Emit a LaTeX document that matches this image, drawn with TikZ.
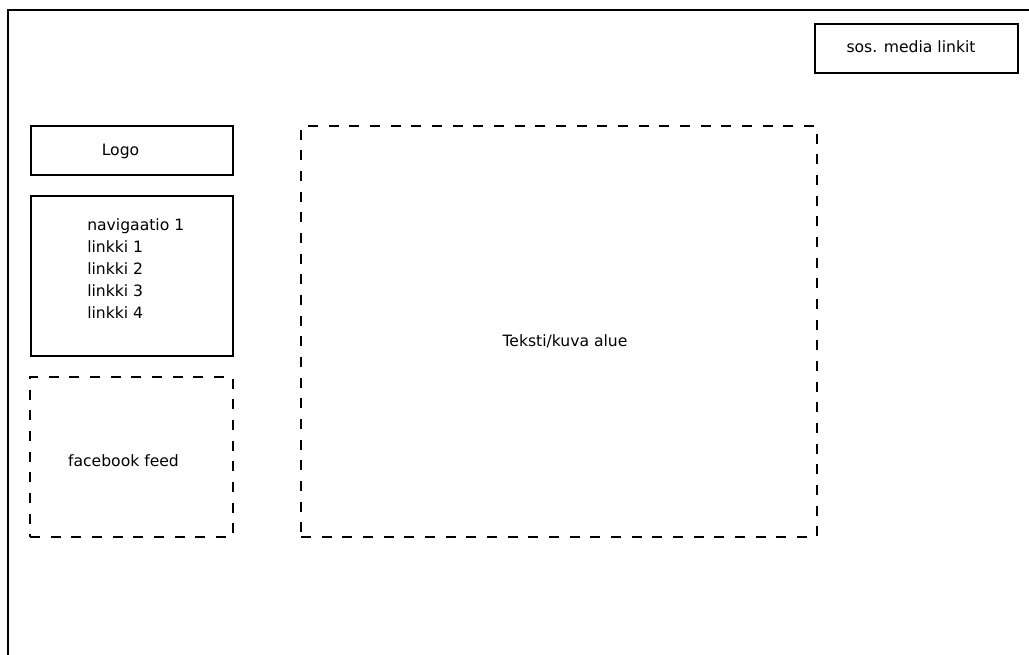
\documentclass[tikz,border=0pt]{standalone}
\usepackage{fontspec}
\setmainfont{DejaVu Sans}
\begin{document}
\begin{tikzpicture}[x=0.75pt,y=-0.75pt,
  box/.style={draw=black,line width=1.5pt,inner sep=0pt,rectangle},
  dbox/.style={box,dash pattern=on 7.5pt off 8pt},
  lbl/.style={inner sep=0pt,font=\fontsize{11.7}{16.5}\selectfont,text=black}]
\useasboundingbox (0,0) rectangle (1029,655);
% outer frame (left and top edges visible)
\coordinate (fbl) at (8,655);
\coordinate (ftl) at (8,10);
\coordinate (ftr) at (1029,10);
\draw[line width=1.5pt] (fbl) -- (ftl) -- (ftr);
% boxes
\node[box,minimum width=152.25pt,minimum height=36.75pt] (sos) at (916.5,48.5) {};
\node[box,minimum width=151.5pt,minimum height=36.75pt] (logo) at (132,150.5) {};
\node[box,minimum width=151.5pt,minimum height=120pt] (nav) at (132,276) {};
\node[dbox,minimum width=152.25pt,minimum height=120pt] (fb) at (131.5,457) {};
\node[dbox,minimum width=387pt,minimum height=308.25pt] (main) at (559,331.5) {};
% labels
\node[lbl,anchor=base] (sost) at (911,52.7) {sos. media linkit};
\node[lbl,anchor=base] (logot) at (120.5,156) {Logo};
\node[lbl,anchor=base west,align=left] (navt) at (87,319) {navigaatio 1\\linkki 1\\linkki 2\\linkki 3\\linkki 4};
\node[lbl,anchor=base] (fbt) at (123.5,466.7) {facebook feed};
\node[lbl,anchor=base] (maint) at (565,346.7) {Teksti/kuva alue};
\end{tikzpicture}
\end{document}
